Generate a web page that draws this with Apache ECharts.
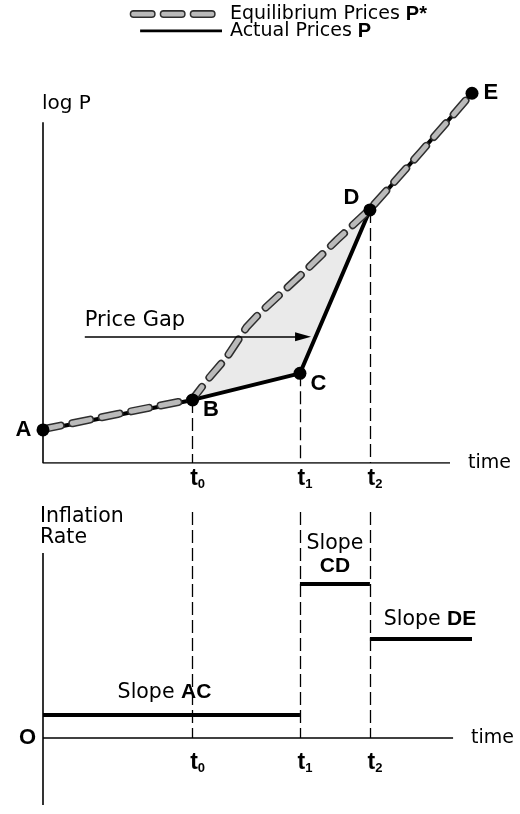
<!DOCTYPE html>
<html>
<head>
<meta charset="utf-8">
<script src="https://cdn.jsdelivr.net/npm/echarts@6/dist/echarts.min.js"></script>
<style>
  html, body { margin: 0; padding: 0; background: #fff; }
  #chart { width: 520px; height: 814px; }
</style>
</head>
<body>
<div id="chart"></div>
<script>
// top panel: log P over time
const pointNames = ['A', 'B', 'C', 'D', 'E'];
const actualTime = [0, 34, 58.4, 74.3, 97.5];
const actualLogP = [8.7, 16.6, 23.6, 66.6, 97.3];
const equilibriumTime = [0, 17, 34, 37.3, 41.8, 46.3, 49.3, 59.1, 66.8, 74.3, 86, 97.5];
const equilibriumLogP = [8.9, 12.9, 16.8, 21.8, 27.9, 35.8, 39.5, 50, 58.7, 66.8, 82, 97.3];

// time marks t0, t1, t2
const markSubscripts = ['0', '1', '2'];
const markTimes = [34, 58.4, 74.3];

// bottom panel: inflation rate = slope of each segment
const slopeNames = ['AC', 'CD', 'DE'];
const slopeStart = [0, 58.4, 74.3];
const slopeEnd = [58.4, 74.3, 97.5];
const inflationRate = [6, 40.5, 26];

// axis extents
const topAxisTimeEnd = 92.5;
const topAxisLogPEnd = 89.7;
const bottomAxisTimeEnd = 93.2;
const bottomAxisRateTop = 48.7;
const bottomAxisRateBottom = -17.6;
const bottomDashTop = 59.5;

const priceGapFrom = 9.5;
const priceGapTo = 59.1;
const priceGapLevel = 33.2;

const ink = '#000';
const regularFont = 'DejaVu Sans';
const boldFont = 'Liberation Sans';

const actualPoints = actualTime.map((t, i) => [t, actualLogP[i]]);
const equilibriumPoints = equilibriumTime.map((t, i) => [t, equilibriumLogP[i]]);
const gapOutline = [
  ...equilibriumPoints.filter(p => p[0] >= actualTime[1] && p[0] <= actualTime[3]),
  actualPoints[3], actualPoints[2], actualPoints[1]
];

const tRich = {
  t: { fontFamily: boldFont, fontWeight: 'bold', fontSize: 23, color: ink, lineHeight: 24 },
  s: { fontFamily: boldFont, fontWeight: 'bold', fontSize: 13, color: ink, verticalAlign: 'bottom', lineHeight: 24 }
};
const slopeRich = {
  r: { fontFamily: regularFont, fontSize: 20.5, color: ink, lineHeight: 22 },
  b: { fontFamily: boldFont, fontWeight: 'bold', fontSize: 21, color: ink, lineHeight: 22 }
};

const equilibriumOuter = { color: '#2e2e2e', width: 8, type: [18, 12], cap: 'round', join: 'round' };
const equilibriumInner = { color: '#bababa', width: 5, type: [18, 12], cap: 'round', join: 'round' };

function hiddenAxis(gridIndex, min, max) {
  return { type: 'value', gridIndex, min, max, show: false };
}

const pointLabelPlacement = [
  { position: 'left', distance: 5, offset: [0, 0] },
  { position: 'right', distance: 4, offset: [0, 10] },
  { position: 'right', distance: 4, offset: [0, 11] },
  { position: 'left', distance: 4, offset: [0, -12] },
  { position: 'right', distance: 5, offset: [0, 0] }
];

const slopePlacement = [
  { offset: [-7, 0], distance: 12, text: n => '{r|Slope }{b|' + n + '}' },
  { offset: [0, 0], distance: 7, text: n => '{r|Slope}\n{b|' + n + '}' },
  { offset: [9, 0], distance: 9, text: n => '{r|Slope }{b|' + n + '}' }
];

const chart = echarts.init(document.getElementById('chart'), null, { renderer: 'canvas' });

chart.setOption({
  animation: false,
  backgroundColor: '#fff',
  grid: [
    { left: 43, top: 83, width: 440, height: 380 },
    { left: 43, top: 510, width: 440, height: 304 },
    { left: 130, top: 14, width: 92, height: 17 }
  ],
  xAxis: [hiddenAxis(0, 0, 100), hiddenAxis(1, 0, 100), hiddenAxis(2, 0, 1)],
  yAxis: [hiddenAxis(0, 0, 100), hiddenAxis(1, -20, 60), hiddenAxis(2, 0, 1)],
  series: [
    // shaded price gap
    {
      type: 'custom',
      xAxisIndex: 0,
      yAxisIndex: 0,
      data: [0],
      silent: true,
      z: 1,
      renderItem: (params, api) => ({
        type: 'polygon',
        shape: { points: gapOutline.map(p => api.coord(p)) },
        style: { fill: '#eaeaea' }
      })
    },
    // top axes
    {
      type: 'line',
      xAxisIndex: 0,
      yAxisIndex: 0,
      data: [[0, topAxisLogPEnd], [0, 0], [topAxisTimeEnd, 0]],
      symbol: 'none',
      silent: true,
      lineStyle: { color: ink, width: 1.6 },
      z: 2,
      markLine: {
        silent: true,
        symbol: ['none', 'triangle'],
        symbolSize: [9, 16],
        lineStyle: { color: ink, width: 1.6, type: 'solid' },
        label: {
          show: true,
          position: 'insideStartTop',
          formatter: 'Price Gap',
          fontFamily: regularFont,
          fontSize: 21,
          color: ink,
          distance: 6,
          offset: [-6, 0]
        },
        data: [[
          { coord: [priceGapFrom, priceGapLevel] },
          { coord: [priceGapTo, priceGapLevel] }
        ]]
      }
    },
    // dashed drops from B, C, D
    {
      type: 'lines',
      coordinateSystem: 'cartesian2d',
      xAxisIndex: 0,
      yAxisIndex: 0,
      silent: true,
      z: 2,
      lineStyle: { color: ink, width: 1.3, type: [13, 5], opacity: 1 },
      data: [1, 2, 3].map(i => ({ coords: [[actualTime[i], actualLogP[i]], [actualTime[i], 0]] }))
    },
    // actual prices
    {
      name: 'Actual Prices P',
      type: 'line',
      xAxisIndex: 0,
      yAxisIndex: 0,
      data: actualPoints,
      symbol: 'none',
      lineStyle: { color: ink, width: 4, join: 'round' },
      z: 3
    },
    // equilibrium prices
    {
      name: 'Equilibrium Prices P*',
      type: 'line',
      xAxisIndex: 0,
      yAxisIndex: 0,
      data: equilibriumPoints,
      symbol: 'none',
      lineStyle: equilibriumOuter,
      z: 4
    },
    {
      type: 'line',
      xAxisIndex: 0,
      yAxisIndex: 0,
      data: equilibriumPoints,
      symbol: 'none',
      lineStyle: equilibriumInner,
      z: 4
    },
    // points A..E
    {
      type: 'scatter',
      xAxisIndex: 0,
      yAxisIndex: 0,
      symbolSize: 13,
      itemStyle: { color: ink, opacity: 1 },
      z: 5,
      data: actualPoints.map((p, i) => ({
        value: p,
        label: {
          show: true,
          formatter: pointNames[i],
          fontFamily: boldFont,
          fontWeight: 'bold',
          fontSize: 22,
          color: ink,
          ...pointLabelPlacement[i]
        }
      }))
    },
    // top annotations
    {
      type: 'scatter',
      xAxisIndex: 0,
      yAxisIndex: 0,
      symbolSize: 0,
      silent: true,
      itemStyle: { opacity: 1 },
      label: { show: true, color: ink, fontFamily: regularFont, fontSize: 20 },
      data: [
        { value: [0, topAxisLogPEnd], label: { formatter: 'log P', position: 'top', align: 'left', distance: 8, offset: [-1, 0] } },
        { value: [topAxisTimeEnd, 0], label: { formatter: 'time', position: 'right', distance: 18, fontSize: 19 } },
        ...markTimes.map((t, i) => ({
          value: [t, 0],
          label: { formatter: '{t|t}{s|' + markSubscripts[i] + '}', rich: tRich, position: 'bottom', distance: 4, offset: [5, 0] }
        }))
      ]
    },
    // bottom axes
    {
      type: 'lines',
      coordinateSystem: 'cartesian2d',
      xAxisIndex: 1,
      yAxisIndex: 1,
      silent: true,
      lineStyle: { color: ink, width: 1.6, opacity: 1 },
      data: [
        { coords: [[0, bottomAxisRateTop], [0, bottomAxisRateBottom]] },
        { coords: [[0, 0], [bottomAxisTimeEnd, 0]] }
      ]
    },
    // bottom dashed verticals
    {
      type: 'lines',
      coordinateSystem: 'cartesian2d',
      xAxisIndex: 1,
      yAxisIndex: 1,
      silent: true,
      lineStyle: { color: ink, width: 1.3, type: [13, 5], opacity: 1 },
      data: markTimes.map(t => ({ coords: [[t, bottomDashTop], [t, 0]] }))
    },
    // inflation rate segments
    {
      type: 'lines',
      coordinateSystem: 'cartesian2d',
      xAxisIndex: 1,
      yAxisIndex: 1,
      silent: true,
      z: 3,
      lineStyle: { color: ink, width: 4, opacity: 1 },
      data: slopeNames.map((n, i) => ({ coords: [[slopeStart[i], inflationRate[i]], [slopeEnd[i], inflationRate[i]]] }))
    },
    // bottom annotations
    {
      type: 'scatter',
      xAxisIndex: 1,
      yAxisIndex: 1,
      symbolSize: 0,
      silent: true,
      itemStyle: { opacity: 1 },
      label: { show: true, color: ink, fontFamily: regularFont, fontSize: 20.5 },
      data: [
        { value: [0, bottomAxisRateTop], label: { formatter: 'Inflation\nRate', position: 'top', align: 'left', distance: 5, offset: [-3, 0], lineHeight: 21 } },
        { value: [0, 0], label: { formatter: 'O', position: 'left', distance: 7, fontFamily: boldFont, fontWeight: 'bold', fontSize: 22 } },
        { value: [bottomAxisTimeEnd, 0], label: { formatter: 'time', position: 'right', distance: 18, fontSize: 19 } },
        ...markTimes.map((t, i) => ({
          value: [t, 0],
          label: { formatter: '{t|t}{s|' + markSubscripts[i] + '}', rich: tRich, position: 'bottom', distance: 13, offset: [5, 0] }
        })),
        ...slopeNames.map((n, i) => ({
          value: [(slopeStart[i] + slopeEnd[i]) / 2, inflationRate[i]],
          label: {
            formatter: slopePlacement[i].text(n),
            rich: slopeRich,
            position: 'top',
            distance: slopePlacement[i].distance,
            offset: slopePlacement[i].offset
          }
        }))
      ]
    },
    // legend samples
    {
      type: 'line',
      xAxisIndex: 2,
      yAxisIndex: 2,
      data: [[0.04, 1], [0.89, 1]],
      symbol: 'none',
      silent: true,
      lineStyle: equilibriumOuter,
      endLabel: {
        show: true,
        distance: 18,
        formatter: 'Equilibrium Prices {b|P*}',
        fontFamily: regularFont,
        fontSize: 19,
        color: ink,
        rich: { b: { fontFamily: boldFont, fontWeight: 'bold', fontSize: 20, color: ink } }
      }
    },
    {
      type: 'line',
      xAxisIndex: 2,
      yAxisIndex: 2,
      data: [[0.04, 1], [0.89, 1]],
      symbol: 'none',
      silent: true,
      lineStyle: equilibriumInner
    },
    {
      type: 'line',
      xAxisIndex: 2,
      yAxisIndex: 2,
      data: [[0.11, 0], [1, 0]],
      symbol: 'none',
      silent: true,
      lineStyle: { color: ink, width: 3 },
      endLabel: {
        show: true,
        distance: 8,
        formatter: 'Actual Prices {b|P}',
        fontFamily: regularFont,
        fontSize: 19,
        color: ink,
        rich: { b: { fontFamily: boldFont, fontWeight: 'bold', fontSize: 20, color: ink } }
      }
    }
  ]
});

window.addEventListener('resize', () => chart.resize());
</script>
</body>
</html>
